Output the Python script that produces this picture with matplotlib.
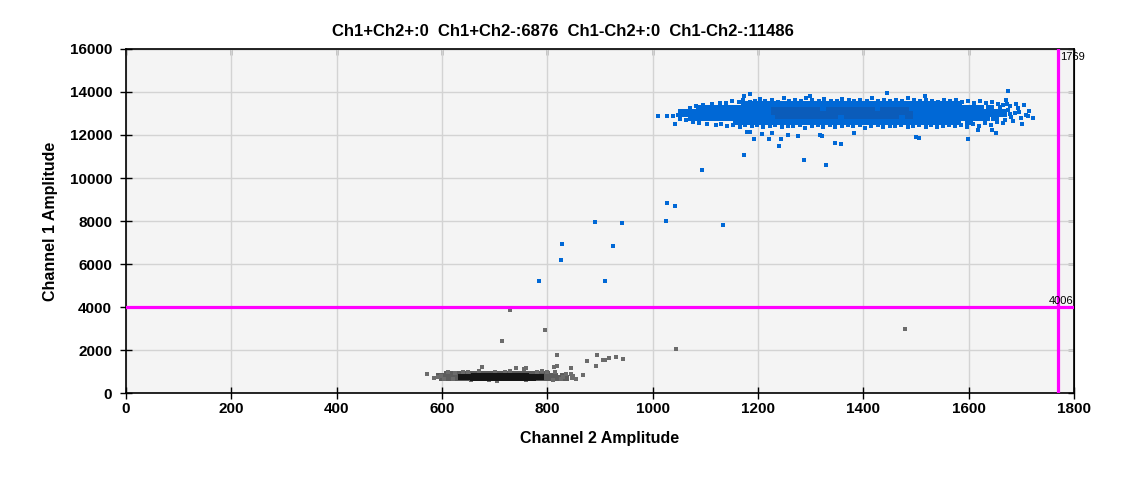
import matplotlib
matplotlib.use("Agg")
import matplotlib.pyplot as plt

# ---- data ----
title = "Ch1+Ch2+:0  Ch1+Ch2-:6876  Ch1-Ch2+:0  Ch1-Ch2-:11486"
ch1_threshold = 4006
ch2_threshold = 1769

# blue cluster (Ch1+Ch2-): dense body rows, darker core rows, fringe and outliers
blue_body_y = [13380, 13200, 13020, 12840, 12660]
blue_body_x = [
    [1175, 1188, 1200, 1213, 1226, 1238, 1251, 1264, 1276, 1289, 1302, 1314, 1327, 1340,
     1352, 1365, 1378, 1390, 1403, 1416, 1428, 1441, 1454, 1466, 1479, 1492, 1504, 1517,
     1530, 1542, 1555, 1568, 1580],
    [1090, 1103, 1116, 1128, 1141, 1154, 1166, 1179, 1192, 1204, 1217, 1230, 1242, 1255,
     1268, 1280, 1293, 1306, 1318, 1331, 1344, 1356, 1369, 1382, 1394, 1407, 1420, 1432,
     1445, 1458, 1470, 1483, 1496, 1508, 1521, 1534, 1546, 1559, 1572, 1584, 1597, 1610,
     1622, 1640],
    [1055, 1068, 1080, 1093, 1106, 1118, 1131, 1144, 1156, 1169, 1182, 1194, 1207, 1220,
     1232, 1245, 1258, 1270, 1283, 1296, 1308, 1321, 1334, 1346, 1359, 1372, 1384, 1397,
     1410, 1422, 1435, 1448, 1460, 1473, 1486, 1498, 1511, 1524, 1536, 1549, 1562, 1574,
     1587, 1600, 1612, 1625, 1638, 1651, 1665],
    [1075, 1088, 1100, 1113, 1126, 1138, 1151, 1164, 1176, 1189, 1202, 1214, 1227, 1240,
     1252, 1265, 1278, 1290, 1303, 1316, 1328, 1341, 1354, 1366, 1379, 1392, 1404, 1417,
     1430, 1442, 1455, 1468, 1480, 1493, 1506, 1518, 1531, 1544, 1556, 1569, 1582, 1594,
     1607, 1620, 1632, 1650],
    [1160, 1173, 1186, 1198, 1211, 1224, 1236, 1249, 1262, 1274, 1287, 1300, 1312, 1325,
     1338, 1350, 1363, 1376, 1388, 1401, 1414, 1426, 1439, 1452, 1464, 1477, 1490, 1502,
     1515, 1528, 1540, 1553, 1566, 1578, 1600],
]
blue_core_y = [13110, 12930]
blue_core_x = [
    [1232, 1245, 1258, 1271, 1284, 1297, 1310, 1336, 1349, 1362, 1375, 1388, 1401, 1414,
     1440, 1453, 1466, 1479],
    [1240, 1253, 1266, 1279, 1292, 1305, 1318, 1331, 1344, 1370, 1383, 1396, 1409, 1422,
     1435, 1448, 1461, 1487],
]
blue_fringe_x = [1140, 1151, 1163, 1172, 1184, 1195, 1203, 1214, 1226, 1237, 1249, 1258, 1270,
                 1281, 1292, 1303, 1315, 1326, 1338, 1349, 1360, 1372, 1383, 1394, 1406, 1417,
                 1428, 1440, 1451, 1462, 1474, 1485, 1496, 1508, 1519, 1530, 1542, 1553, 1564,
                 1576, 1587, 1598, 1610, 1621, 1632, 1644, 1655, 1666, 1678,
                 1130, 1142, 1153, 1165, 1176, 1188, 1199, 1210, 1222, 1233, 1245, 1256, 1267,
                 1279, 1290, 1302, 1313, 1324, 1336, 1347, 1359, 1370, 1381, 1393, 1404, 1415,
                 1427, 1438, 1450, 1461, 1472, 1484, 1495, 1506, 1518, 1529, 1540, 1552, 1563,
                 1574, 1586, 1597, 1608, 1620, 1631, 1643, 1654, 1665,
                 1048, 1052, 1058, 1064, 1070, 1076, 1082, 1088, 1096, 1104, 1112, 1120, 1128,
                 1660, 1668, 1675, 1680, 1688, 1694, 1700, 1708, 1715, 1690, 1705, 1672, 1684,
                 1696, 1712, 1678]
blue_fringe_y = [13480, 13560, 13520, 13610, 13540, 13600, 13660, 13560, 13620, 13540, 13700, 13600, 13650,
                 13560, 13720, 13610, 13580, 13660, 13600, 13560, 13690, 13620, 13570, 13640, 13600, 13720,
                 13560, 13650, 13590, 13630, 13560, 13700, 13610, 13570, 13650, 13590, 13540, 13640, 13580,
                 13620, 13530, 13600, 13500, 13560, 13470, 13520, 13430, 13380, 13330,
                 12500, 12420, 12480, 12380, 12450, 12400, 12470, 12350, 12430, 12480, 12370, 12440, 12400,
                 12480, 12340, 12420, 12470, 12390, 12450, 12360, 12430, 12480, 12400, 12450, 12330, 12420,
                 12470, 12380, 12440, 12400, 12480, 12360, 12430, 12470, 12390, 12450, 12350, 12420, 12480,
                 12400, 12460, 12380, 12500, 12430, 12540, 12480, 12600, 12560,
                 12950, 12760, 13100, 12700, 13250, 12620, 13330, 12560, 13400, 12520, 13440, 12480, 13470,
                 13300, 12700, 13150, 12850, 13000, 13250, 12780, 12950, 13100, 13450, 13380, 13460, 12640,
                 13080, 12880, 12980]
blue_out_x = [1174, 1094, 1028, 1043, 1026, 1134, 891, 942, 828, 925, 826, 785, 910,
              1288, 1330, 1240, 1193, 1221, 1347, 1358, 1599, 1499, 1505, 1180, 1184,
              1207, 1226, 1243, 1257, 1276, 1318, 1321, 1383, 1617, 1651, 1645, 1702,
              1722, 1675, 1444, 1185, 1174, 1517, 1670, 1298, 1011, 1028, 1039, 1043]
blue_out_y = [11056, 10358, 8823, 8684, 7986, 7800, 7940, 7893, 6916, 6823, 6172, 5195, 5195,
              10823, 10590, 11474, 11800, 11800, 11614, 11567, 11800, 11893, 11860, 12125, 12160,
              12050, 12078, 11800, 12000, 11940, 11985, 11940, 12080, 12220, 12080, 12230, 12530,
              12775, 14047, 13938, 13891, 13830, 13814, 13630, 13814, 12884, 12884, 12884, 12490]

# gray cluster (Ch1-Ch2-)
gray_body_y = [880, 780, 680]
gray_body_x = [
    [610, 620, 630, 640, 650, 660, 670, 680, 690, 700, 710, 720, 730, 740, 750, 760, 770, 780, 790, 800],
    [595, 605, 615, 625, 635, 645, 655, 665, 675, 685, 695, 705, 715, 725, 735, 745, 755, 765, 775, 785,
     795, 805, 815, 830],
    [600, 610, 620, 630, 640, 650, 660, 670, 680, 690, 700, 710, 720, 730, 740, 750, 760, 770, 780, 790,
     800, 810, 820, 835],
]
gray_core_y = [800, 740, 690]
gray_core_x = [
    [660, 669, 678, 687, 696, 705, 714, 723, 732, 741, 750, 760],
    [636, 645, 654, 663, 672, 681, 690, 699, 708, 717, 726, 735, 744, 753, 762, 771, 780, 788],
    [658, 667, 676, 685, 694, 703, 712, 721, 730, 739, 748, 757, 766, 772],
]
gray_halo_x = [572, 585, 592, 598, 603, 676, 740, 756, 759, 700, 720, 650, 780, 800, 813, 819,
               844, 845, 848, 846, 830, 836, 868, 855, 625, 690, 760, 810, 620, 640, 670, 730,
               790, 815, 825, 612, 655, 705]
gray_halo_y = [870, 684, 740, 800, 660, 1195, 1150, 1102, 1149, 1000, 980, 960, 990, 960, 1195, 1242,
               1149, 870, 780, 700, 760, 900, 823, 650, 940, 600, 590, 610, 640, 980, 1010, 1020,
               1040, 1000, 650, 960, 600, 580]
gray_out_x = [730, 796, 713, 1045, 1480, 819, 895, 876, 905, 910, 918, 931, 944, 893]
gray_out_y = [3876, 2914, 2403, 2033, 2963, 1753, 1753, 1474, 1521, 1521, 1614, 1660, 1567, 1242]

x_ticks = [0, 200, 400, 600, 800, 1000, 1200, 1400, 1600, 1800]
y_ticks = [0, 2000, 4000, 6000, 8000, 10000, 12000, 14000, 16000]

plt.rcParams["font.family"] = ["Liberation Sans", "DejaVu Sans"]

fig = plt.figure(figsize=(11.25, 4.78), dpi=100)
ax = fig.add_axes([0.112, 0.1778, 0.8427, 0.7197])
ax.set_facecolor("#f4f4f4")


def rows(xs_rows, ys):
    px, py = [], []
    for xs, y in zip(xs_rows, ys):
        px += xs
        py += [y] * len(xs)
    return px, py


small = 6.5   # ~3.5 px squares
body = 38     # ~8.5 px squares, overlap into a solid band
gsize = 16    # ~5.5 px squares

bx, by = rows(blue_body_x, blue_body_y)
ax.scatter(bx, by, s=body, marker="s", color="#0068d6", linewidths=0, zorder=3)
cx, cy = rows(blue_core_x, blue_core_y)
ax.scatter(cx, cy, s=body, marker="s", color="#0b5cba", linewidths=0, zorder=4)
ax.scatter(blue_fringe_x, blue_fringe_y, s=small, marker="s", color="#0068d6", linewidths=0, zorder=3)
ax.scatter(blue_out_x, blue_out_y, s=small, marker="s", color="#0068d6", linewidths=0, zorder=3)

gx, gy = rows(gray_body_x, gray_body_y)
ax.scatter(gx, gy, s=gsize, marker="s", color="#5c5c5c", linewidths=0, zorder=3)
gcx, gcy = rows(gray_core_x, gray_core_y)
ax.scatter(gcx, gcy, s=gsize, marker="s", color="#151515", linewidths=0, zorder=4)
ax.scatter(gray_halo_x, gray_halo_y, s=small, marker="s", color="#6b6b6b", linewidths=0, zorder=3)
ax.scatter(gray_out_x, gray_out_y, s=small, marker="s", color="#6b6b6b", linewidths=0, zorder=3)

# threshold lines
ax.axhline(ch1_threshold, color="#ff00ff", lw=2.3, zorder=5)
ax.axvline(ch2_threshold, color="#ff00ff", lw=2.3, zorder=5)
ax.text(ch2_threshold + 5, 15850, str(ch2_threshold), fontsize=8, va="top", ha="left", zorder=6)
ax.text(1798, ch1_threshold + 60, str(ch1_threshold), fontsize=8, va="bottom", ha="right", zorder=6)

ax.set_xlim(0, 1800)
ax.set_ylim(0, 16000)
ax.set_xticks(x_ticks)
ax.set_yticks(y_ticks)
ax.grid(True, color="#d3d3d3", lw=1, zorder=0)
ax.set_axisbelow(True)
ax.tick_params(axis="x", direction="inout", length=8, width=1, labelsize=11, pad=2.5)
ax.tick_params(axis="y", direction="inout", length=8, width=1, labelsize=11, pad=6)
for lab in ax.get_xticklabels() + ax.get_yticklabels():
    lab.set_fontweight("bold")
for sp in ax.spines.values():
    sp.set_linewidth(1.2)

# top / right ticks point inward only
top = ax.secondary_xaxis("top")
top.set_xticks(x_ticks)
top.tick_params(direction="in", length=4, width=1, labeltop=False)
right = ax.secondary_yaxis("right")
right.set_yticks(y_ticks)
right.tick_params(direction="in", length=4, width=1, labelright=False)

ax.set_xlabel("Channel 2 Amplitude", fontsize=11.5, fontweight="bold", labelpad=11)
ax.set_ylabel("Channel 1 Amplitude", fontsize=11.5, fontweight="bold", labelpad=8)
fig.text(0.5, 0.935, title, ha="center", va="center", fontsize=12, fontweight="bold")

fig.savefig("out.png", dpi=100)
